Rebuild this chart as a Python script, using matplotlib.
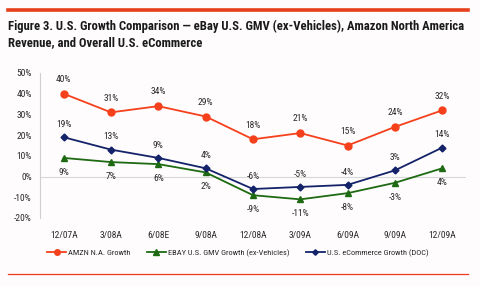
import matplotlib
matplotlib.use("Agg")
import matplotlib.pyplot as plt
from matplotlib.lines import Line2D

# donnees
quarters = ['12/07A', '3/08A', '6/08E', '9/08A', '12/08A', '3/09A', '6/09A', '9/09A', '12/09A']
amzn = [40, 31, 34, 29, 18, 21, 15, 24, 32]
ebay = [9, 7, 6, 2, -9, -11, -8, -3, 4]
ecom = [19, 13, 9, 4, -6, -5, -4, 3, 14]
yticks = [-20, -10, 0, 10, 20, 30, 40, 50]

plt.rcParams['font.family'] = ['Roboto Condensed', 'DejaVu Sans']

c_amzn = '#f5401c'
c_ebay = '#1d6a12'
c_ecom = '#14226a'
c_txt = '#2a2a2a'

fig = plt.figure(figsize=(4.8, 2.86), dpi=100)
fig.patch.set_facecolor('#fefcfc')

# bandeau rouge haut et filet bas
fig.add_artist(Line2D([8/480, 468/480], [1 - 9.5/286, 1 - 9.5/286], color='#e8401c', linewidth=2.6))
fig.add_artist(Line2D([8/480, 468/480], [1 - 274/286, 1 - 274/286], color='#f03a1a', linewidth=0.9))

fig.text(8/480, 1 - 26/286, "Figure 3. U.S. Growth Comparison \u2014 eBay U.S. GMV (ex-Vehicles), Amazon North America",
         fontsize=9.1, fontweight='bold', color='#1a1a1a', va='center', ha='left')
fig.text(8/480, 1 - 43/286, "Revenue, and Overall U.S. eCommerce",
         fontsize=9.1, fontweight='bold', color='#1a1a1a', va='center', ha='left')

ax = fig.add_axes([40/480, 1 - 218/286, 426/480, 145/286])
ax.set_facecolor('none')
x = list(range(len(quarters)))

ax.axhline(0, color='#d8d8d8', linewidth=0.8, zorder=1)
ax.plot(x, amzn, color=c_amzn, marker='o', markersize=5, linewidth=1.3, zorder=3, label='AMZN N.A. Growth')
ax.plot(x, ebay, color=c_ebay, marker='^', markersize=5, linewidth=1.3, zorder=3, label='EBAY U.S. GMV Growth (ex-Vehicles)')
ax.plot(x, ecom, color=c_ecom, marker='D', markersize=3.5, linewidth=1.3, zorder=3, label='U.S. eCommerce Growth (DOC)')

for i in x:
    ax.annotate('%d%%' % amzn[i], (i, amzn[i]), xytext=(0, 7), textcoords='offset points',
                ha='center', va='bottom', fontsize=6.8, color=c_txt)
    ax.annotate('%d%%' % ecom[i], (i, ecom[i]), xytext=(0, 6), textcoords='offset points',
                ha='center', va='bottom', fontsize=6.8, color=c_txt)
    ax.annotate('%d%%' % ebay[i], (i, ebay[i]), xytext=(0, -7), textcoords='offset points',
                ha='center', va='top', fontsize=6.8, color=c_txt)

ax.set_xlim(-0.5, 8.5)
ax.set_ylim(-20, 50)
ax.set_yticks(yticks)
ax.set_yticklabels(['%d%%' % v for v in yticks])
ax.set_xticks(x)
ax.set_xticklabels(quarters)
ax.tick_params(axis='y', labelsize=6.8, colors=c_txt, length=0, pad=6)
ax.tick_params(axis='x', labelsize=6.8, colors=c_txt, length=0, pad=9)
for s in ['top', 'right', 'bottom']:
    ax.spines[s].set_visible(False)
ax.spines['left'].set_color('#d0d0d0')
ax.spines['left'].set_linewidth(0.8)

ax.legend(loc='center', bbox_to_anchor=(238/480, 1 - 253/286), bbox_transform=fig.transFigure,
          ncol=3, frameon=False, fontsize=6.0, handlelength=2.2, columnspacing=2.0, handletextpad=0.3,
          markerscale=0.8, labelcolor=c_txt)

fig.savefig('out.png', dpi=100, facecolor=fig.get_facecolor())
